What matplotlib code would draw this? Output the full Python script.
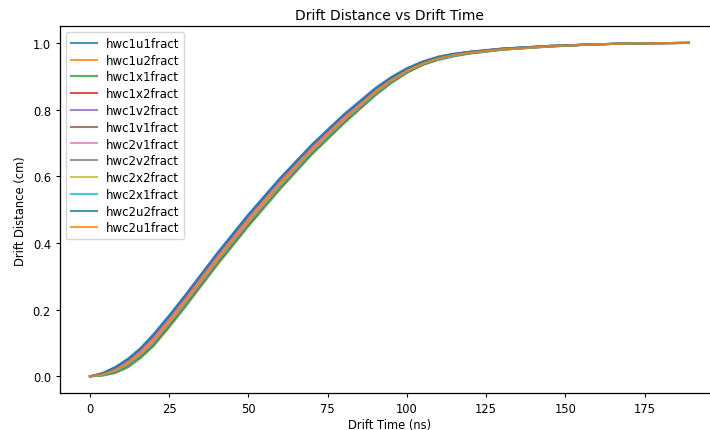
import matplotlib
matplotlib.use("Agg")
import matplotlib.pyplot as plt

# drift time samples (ns)
drift_time = [0, 4, 8, 12, 16, 20, 25, 30, 40, 50, 60, 70, 80, 90, 95, 100,
              105, 110, 115, 120, 130, 145, 160, 175, 189]

# drift distance (cm) per wire plane
hwc1u1fract = [0.000, 0.010, 0.028, 0.053, 0.085, 0.126, 0.183, 0.243, 0.368, 0.486, 0.595, 0.695, 0.785,
               0.864, 0.897, 0.924, 0.944, 0.959, 0.968, 0.974, 0.983, 0.991, 0.996, 0.999, 1.000]
hwc1u2fract = [0.000, 0.007, 0.021, 0.043, 0.073, 0.112, 0.169, 0.229, 0.354, 0.472, 0.582, 0.683, 0.774,
               0.855, 0.890, 0.919, 0.940, 0.955, 0.965, 0.972, 0.981, 0.990, 0.996, 0.999, 1.000]
hwc1x1fract = [0.000, 0.002, 0.010, 0.027, 0.055, 0.090, 0.147, 0.207, 0.332, 0.450, 0.561, 0.665, 0.757,
               0.842, 0.879, 0.910, 0.934, 0.949, 0.960, 0.968, 0.979, 0.989, 0.996, 0.999, 1.000]
hwc1x2fract = [0.000, 0.004, 0.013, 0.032, 0.060, 0.096, 0.153, 0.213, 0.338, 0.456, 0.567, 0.670, 0.762,
               0.846, 0.882, 0.912, 0.935, 0.951, 0.962, 0.969, 0.980, 0.989, 0.996, 0.999, 1.000]
hwc1v2fract = [0.000, 0.008, 0.023, 0.046, 0.077, 0.116, 0.173, 0.233, 0.358, 0.476, 0.586, 0.687, 0.777,
               0.858, 0.892, 0.920, 0.941, 0.956, 0.966, 0.972, 0.982, 0.990, 0.996, 0.999, 1.000]
hwc1v1fract = [0.000, 0.008, 0.024, 0.047, 0.079, 0.118, 0.175, 0.235, 0.360, 0.478, 0.588, 0.689, 0.779,
               0.859, 0.893, 0.921, 0.942, 0.957, 0.966, 0.973, 0.982, 0.991, 0.996, 0.999, 1.000]
hwc2v1fract = [0.000, 0.007, 0.022, 0.044, 0.075, 0.114, 0.171, 0.231, 0.356, 0.474, 0.584, 0.685, 0.776,
               0.857, 0.891, 0.919, 0.941, 0.956, 0.965, 0.972, 0.982, 0.990, 0.996, 0.999, 1.000]
hwc2v2fract = [0.000, 0.009, 0.026, 0.050, 0.082, 0.122, 0.179, 0.239, 0.364, 0.482, 0.591, 0.692, 0.782,
               0.861, 0.895, 0.923, 0.943, 0.958, 0.967, 0.973, 0.982, 0.991, 0.996, 0.999, 1.000]
hwc2x2fract = [0.000, 0.005, 0.016, 0.036, 0.065, 0.102, 0.159, 0.219, 0.344, 0.462, 0.572, 0.675, 0.766,
               0.849, 0.885, 0.915, 0.937, 0.952, 0.963, 0.970, 0.980, 0.990, 0.996, 0.999, 1.000]
hwc2x1fract = [0.000, 0.004, 0.015, 0.034, 0.063, 0.100, 0.157, 0.217, 0.342, 0.460, 0.570, 0.673, 0.765,
               0.848, 0.884, 0.914, 0.937, 0.952, 0.962, 0.970, 0.980, 0.990, 0.996, 0.999, 1.000]
hwc2u2fract = [0.000, 0.009, 0.027, 0.051, 0.084, 0.124, 0.181, 0.241, 0.366, 0.484, 0.593, 0.694, 0.783,
               0.863, 0.896, 0.923, 0.944, 0.958, 0.967, 0.973, 0.983, 0.991, 0.996, 0.999, 1.000]
hwc2u1fract = [0.000, 0.006, 0.018, 0.039, 0.068, 0.106, 0.163, 0.223, 0.348, 0.466, 0.576, 0.678, 0.769,
               0.852, 0.887, 0.916, 0.938, 0.954, 0.964, 0.971, 0.981, 0.990, 0.996, 0.999, 1.000]

series_names = ["hwc1u1fract", "hwc1u2fract", "hwc1x1fract", "hwc1x2fract", "hwc1v2fract", "hwc1v1fract",
                "hwc2v1fract", "hwc2v2fract", "hwc2x2fract", "hwc2x1fract", "hwc2u2fract", "hwc2u1fract"]
series_values = [hwc1u1fract, hwc1u2fract, hwc1x1fract, hwc1x2fract, hwc1v2fract, hwc1v1fract,
                 hwc2v1fract, hwc2v2fract, hwc2x2fract, hwc2x1fract, hwc2u2fract, hwc2u1fract]

# reference is a scaled-down notebook screenshot, so everything is a bit smaller
plt.rcParams["font.size"] = 8.3
plt.rcParams["axes.titlesize"] = 10
plt.rcParams["axes.linewidth"] = 0.9
plt.rcParams["xtick.major.size"] = 3
plt.rcParams["ytick.major.size"] = 3

fig = plt.figure(figsize=(7.1, 4.31), dpi=100)
# right edge runs just past the image, as in the cropped reference
ax = fig.add_axes([0.0845, 0.0858, 0.928, 0.851])

for name, vals in zip(series_names, series_values):
    ax.plot(drift_time, vals, label=name, alpha=0.8, lw=1.5)

ax.set_title("Drift Distance vs Drift Time", pad=5)
ax.set_xlabel("Drift Time (ns)", labelpad=2)
ax.set_ylabel("Drift Distance (cm)")
ax.set_xticks([0, 25, 50, 75, 100, 125, 150, 175])
ax.legend(loc="upper left", fontsize=8.5, labelspacing=0.32, handlelength=2.2)

fig.savefig("out.png", dpi=100)
